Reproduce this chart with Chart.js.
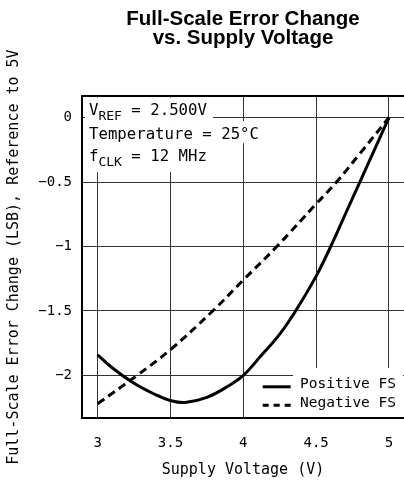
<!DOCTYPE html>
<html><head><meta charset="utf-8">
<script src="https://cdn.jsdelivr.net/npm/chart.js@4/dist/chart.umd.min.js"></script>
<style>html,body{margin:0;padding:0;background:#fff;overflow:hidden}</style>
</head><body>
<canvas id="c" width="404" height="486"></canvas>
<script>
// ---- data ----
const titleLines = ['Full-Scale Error Change', 'vs. Supply Voltage'];
const xAxisTitle = 'Supply Voltage (V)';
const yAxisTitle = 'Full-Scale Error Change (LSB), Reference to 5V';
const xTicks = [3, 3.5, 4, 4.5, 5];
const yTicks = [0, -0.5, -1, -1.5, -2];
const seriesNames = ['Positive FS', 'Negative FS'];
const posVoltage = [3.0, 3.1, 3.25, 3.4, 3.5, 3.6, 3.75, 3.9, 4.0, 4.12, 4.25, 4.37, 4.5, 4.6, 4.7, 4.8, 4.9, 5.0];
const posError   = [-1.84, -1.94, -2.06, -2.15, -2.195, -2.21, -2.17, -2.08, -2.00, -1.85, -1.68, -1.48, -1.23, -1.00, -0.75, -0.50, -0.25, 0];
const negVoltage = [3.0, 3.27, 3.5, 3.79, 4.0, 4.23, 4.5, 4.64, 4.8, 5.0];
const negError   = [-2.22, -2.0, -1.80, -1.5, -1.26, -1.0, -0.67, -0.5, -0.28, 0];
const annotationLines = [
  [{t: 'V'}, {t: 'REF', sub: true}, {t: ' = 2.500V'}],
  [{t: 'Temperature = 25°C'}],
  [{t: 'f'}, {t: 'CLK', sub: true}, {t: ' = 12 MHz'}]
];

// ---- styling ----
const MONO = '"DejaVu Sans Mono", monospace';
const MAIN_FONT = '15.7px ' + MONO;
const SUB_FONT = '13px ' + MONO;
const LEGEND_FONT = '14.5px ' + MONO;
const fmt = v => String(v).replace('-', '\u2212');

const overlay = {
  id: 'overlay',
  beforeDatasetsDraw(chart) {
    const {ctx, chartArea: a} = chart;
    ctx.save();
    // annotation block
    const x0 = a.left + 7;
    const baselines = [a.top + 18.7, a.top + 43, a.top + 64.7];
    const boxBottoms = [a.top + 25, a.top + 47, a.top + 76];
    const widths = annotationLines.map(segs => segs.reduce((w, s) => {
      ctx.font = s.sub ? SUB_FONT : MAIN_FONT; return w + ctx.measureText(s.t).width; }, 0));
    let prev = a.top + 1.5;
    ctx.fillStyle = '#fff';
    annotationLines.forEach((segs, i) => {
      ctx.fillRect(a.left + 3, prev, x0 - a.left - 3 + widths[i] + 6, boxBottoms[i] - prev);
      prev = boxBottoms[i];
    });
    ctx.fillStyle = '#000';
    ctx.textBaseline = 'alphabetic';
    ctx.textAlign = 'left';
    annotationLines.forEach((segs, i) => {
      let x = x0;
      segs.forEach(s => {
        ctx.font = s.sub ? SUB_FONT : MAIN_FONT;
        ctx.fillText(s.t, x, baselines[i] + (s.sub ? 5.5 : 0));
        x += ctx.measureText(s.t).width;
      });
    });
    // legend
    const ds = chart.data.datasets;
    ctx.font = LEGEND_FONT;
    const lx = a.right - 104;
    const rows = [a.bottom - 29.7, a.bottom - 11.3];
    const tw = Math.max(...ds.map(d => ctx.measureText(d.label).width));
    ctx.fillStyle = '#fff';
    ctx.fillRect(lx - 7, a.bottom - 50, tw + 14, 49);
    ctx.fillStyle = '#000';
    ds.forEach((d, i) => {
      ctx.fillText(d.label, lx, rows[i]);
      ctx.strokeStyle = d.borderColor;
      ctx.lineWidth = d.borderWidth;
      ctx.setLineDash(d.borderDash && d.borderDash.length ? [6, 5] : []);
      ctx.beginPath();
      ctx.moveTo(lx - 37.3, rows[i] - 1.5);
      ctx.lineTo(lx - 9.3, rows[i] - 1.5);
      ctx.stroke();
    });
    ctx.restore();
  }
};

const toPoints = (xs, ys) => xs.map((x, i) => ({x, y: ys[i]}));

new Chart(document.getElementById('c'), {
  type: 'line',
  data: {
    datasets: [
      {label: seriesNames[0], data: toPoints(posVoltage, posError), borderColor: '#000', borderWidth: 3,
       pointRadius: 0, fill: false, tension: 0.4, borderDash: []},
      {label: seriesNames[1], data: toPoints(negVoltage, negError), borderColor: '#000', borderWidth: 3,
       pointRadius: 0, fill: false, tension: 0.4, borderDash: [8, 5]}
    ]
  },
  options: {
    responsive: false,
    animation: false,
    devicePixelRatio: 1,
    layout: {padding: 0},
    plugins: {
      legend: {display: false},
      tooltip: {enabled: false},
      title: {
        display: true, text: titleLines, fullSize: false, color: '#000',
        font: {family: '"Liberation Sans", Arial, sans-serif', size: 20.5, weight: 'bold', lineHeight: 0.93},
        padding: {top: 10, bottom: 48}
      }
    },
    scales: {
      x: {
        type: 'linear', min: 2.893, max: 5.103,
        afterBuildTicks: s => { s.ticks = xTicks.map(v => ({value: v})); },
        afterFit: s => { s.height = 68; },
        grid: {color: '#333', lineWidth: 1, drawTicks: true, tickLength: 16.5, tickColor: 'rgba(0,0,0,0)'},
        border: {display: true, color: '#000', width: 2},
        ticks: {font: {family: MONO, size: 14}, color: '#000', padding: 0, maxRotation: 0, autoSkip: false, callback: v => fmt(v)},
        title: {display: true, text: xAxisTitle, color: '#000', font: {family: MONO, size: 15}, padding: {top: 0, bottom: 7}}
      },
      xTop: {
        type: 'linear', position: 'top', min: 2.893, max: 5.103,
        afterFit: s => { s.height = 0; },
        grid: {display: false, drawTicks: false},
        ticks: {display: false},
        border: {display: true, color: '#000', width: 2}
      },
      y: {
        type: 'linear', min: -2.33, max: 0.166,
        afterBuildTicks: s => { s.ticks = yTicks.map(v => ({value: v})); },
        afterFit: s => { s.width = 82; },
        grid: {color: '#333', lineWidth: 1, drawTicks: false},
        border: {display: true, color: '#000', width: 2},
        ticks: {font: {family: MONO, size: 14}, color: '#000', padding: 10, autoSkip: false, callback: v => fmt(v)},
        title: {display: true, text: yAxisTitle, color: '#000', font: {family: MONO, size: 15}, padding: {top: 5, bottom: 0}}
      }
    }
  },
  plugins: [overlay]
});
</script>
</body></html>
